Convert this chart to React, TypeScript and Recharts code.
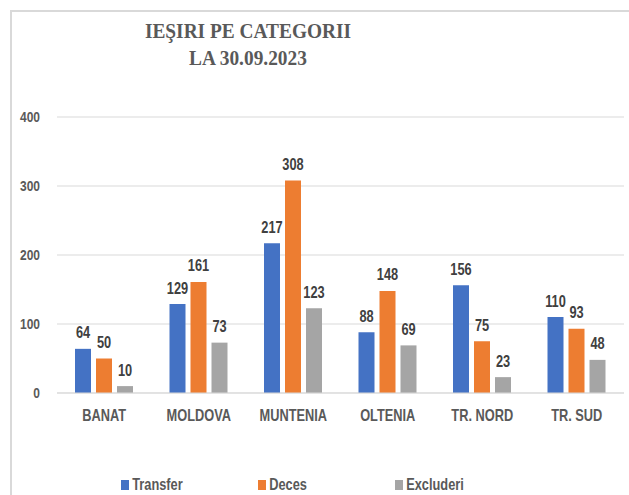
import React from 'react';
import { BarChart, Bar, XAxis, YAxis, CartesianGrid, LabelList } from 'recharts';

const REGIONS = ['BANAT', 'MOLDOVA', 'MUNTENIA', 'OLTENIA', 'TR. NORD', 'TR. SUD'];
const TRANSFER = [64, 129, 217, 88, 156, 110];
const DECES = [50, 161, 308, 148, 75, 93];
const EXCLUDERI = [10, 73, 123, 69, 23, 48];
const Y_TICKS = [0, 100, 200, 300, 400];

const SERIES = [
  { key: 'transfer', name: 'Transfer', color: '#4472C4' },
  { key: 'deces', name: 'Deces', color: '#ED7D31' },
  { key: 'excluderi', name: 'Excluderi', color: '#A5A5A5' },
];

const data = REGIONS.map((region, i) => ({
  region,
  transfer: TRANSFER[i],
  deces: DECES[i],
  excluderi: EXCLUDERI[i],
}));

const FONT = '"Liberation Sans", Arial, sans-serif';
const TEXT = '#595959';
const SQUEEZE = 0.8;

// the source uses a narrow font, so squeeze the text horizontally
const NarrowText = ({ x, y, value, anchor, fill, size }: any) => (
  <g transform={`translate(${x},${y}) scale(${SQUEEZE},1)`}>
    <text
      x={0}
      y={0}
      textAnchor={anchor}
      dominantBaseline="central"
      fill={fill}
      fontSize={size}
      fontWeight="bold"
      fontFamily={FONT}
    >
      {value}
    </text>
  </g>
);

const XTick = (props: any) => {
  const { x, y, payload } = props;
  return <NarrowText x={x} y={y + 14} value={payload.value} anchor="middle" fill={TEXT} size={16} />;
};

const YTick = (props: any) => {
  const { x, y, payload } = props;
  return <NarrowText x={x - 9} y={y} value={payload.value} anchor="end" fill={TEXT} size={15} />;
};

const BarLabel = (props: any) => {
  const { x, y, width, value } = props;
  return <NarrowText x={x + width / 2} y={y - 16} value={value} anchor="middle" fill="#404040" size={16} />;
};

const App = () => {
  return (
    <div style={{ position: 'absolute', left: 0, top: 0, width: 629, height: 495, overflow: 'hidden', background: '#fff' }}>
      <div
        style={{
          position: 'absolute',
          left: 10,
          top: 10,
          width: 640,
          height: 500,
          borderLeft: '2px solid #d9d9d9',
          borderTop: '2px solid #d9d9d9',
        }}
      />
      <div
        style={{
          position: 'absolute',
          left: 48,
          width: 400,
          top: 17,
          textAlign: 'center',
          fontFamily: '"Liberation Serif", "Times New Roman", serif',
          fontWeight: 'bold',
          fontSize: 22,
          lineHeight: '27px',
          color: TEXT,
          transform: 'scaleX(0.88)',
        }}
      >
        IEŞIRI PE CATEGORII
        <br />
        LA 30.09.2023
      </div>
      <div style={{ position: 'absolute', left: 0, top: 0 }}>
        <BarChart
          width={629}
          height={495}
          data={data}
          margin={{ top: 117, right: 5, left: 10, bottom: 72 }}
          barSize={16}
          barGap={5}
        >
          <CartesianGrid vertical={false} stroke="#d9d9d9" />
          <XAxis
            dataKey="region"
            axisLine={{ stroke: '#d9d9d9' }}
            tickLine={false}
            height={30}
            tick={<XTick />}
          />
          <YAxis
            width={47}
            domain={[0, 400]}
            ticks={Y_TICKS}
            axisLine={false}
            tickLine={false}
            tick={<YTick />}
          />
          {SERIES.map((s) => (
            <Bar key={s.key} dataKey={s.key} name={s.name} fill={s.color} isAnimationActive={false}>
              <LabelList dataKey={s.key} content={<BarLabel />} />
            </Bar>
          ))}
        </BarChart>
      </div>
      {SERIES.map((s, i) => (
        <div
          key={s.key}
          style={{
            position: 'absolute',
            left: 121 + i * 137,
            top: 476,
            display: 'flex',
            alignItems: 'center',
            fontFamily: FONT,
            fontWeight: 'bold',
            fontSize: 16,
            lineHeight: '18px',
            color: TEXT,
            whiteSpace: 'nowrap',
            transform: `scaleX(${SQUEEZE})`,
            transformOrigin: 'left center',
          }}
        >
          <span style={{ display: 'inline-block', width: 10, height: 10, background: s.color, marginRight: 4 }} />
          {s.name}
        </div>
      ))}
    </div>
  );
};

export default App;
